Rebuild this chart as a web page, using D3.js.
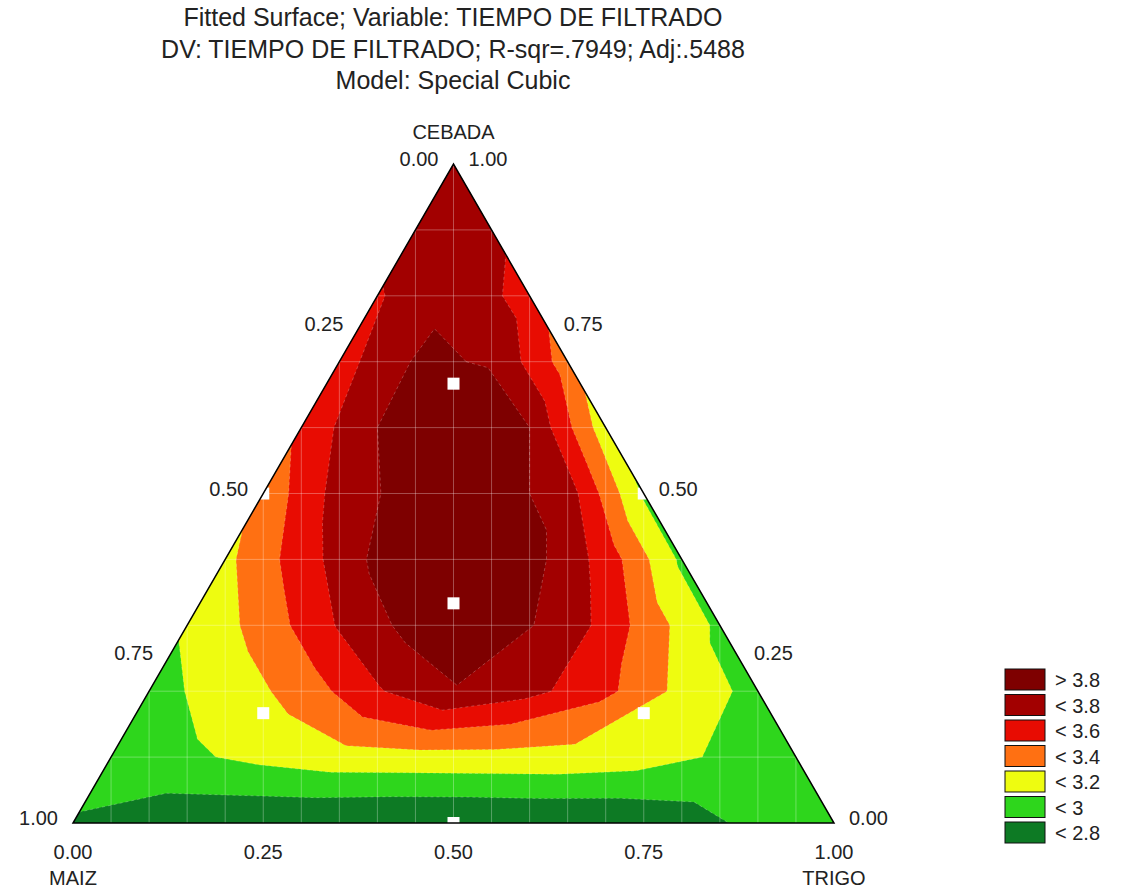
<!DOCTYPE html>
<html>
<head>
<meta charset="utf-8">
<script src="https://cdn.jsdelivr.net/npm/d3@7"></script>
<style>
  body { margin: 0; background: #fff; }
  svg text { font-family: "Liberation Sans", Arial, sans-serif; fill: #222; }
</style>
</head>
<body>
<div id="chart"></div>
<script>
// title
var titleLines = [
  "Fitted Surface; Variable: TIEMPO DE FILTRADO",
  "DV: TIEMPO DE FILTRADO; R-sqr=.7949; Adj:.5488",
  "Model: Special Cubic"
];

// fitted surface, one row per CEBADA step of 0.1 (bottom to top),
// each row goes TRIGO = 0, 0.1, ... up to the right edge
var row0  = [2.78, 2.66, 2.62, 2.60, 2.58, 2.58, 2.60, 2.62, 2.72, 2.85, 2.98];
var row1  = [2.90, 2.97, 3.05, 3.12, 3.13, 3.14, 3.14, 3.10, 2.97, 2.93];
var row2  = [2.93, 3.08, 3.28, 3.58, 3.79, 3.66, 3.45, 3.14, 2.93];
var row3  = [3.02, 3.28, 3.62, 3.88, 3.90, 3.72, 3.33, 2.95];
var row4  = [3.15, 3.50, 3.85, 3.93, 3.88, 3.52, 2.96];
var row5  = [3.26, 3.68, 3.90, 3.90, 3.70, 2.97];
var row6  = [3.45, 3.80, 3.90, 3.80, 3.08];
var row7  = [3.52, 3.82, 3.79, 3.30];
var row8  = [3.58, 3.78, 3.50];
var row9  = [3.72, 3.66];
var row10 = [3.74];
var surface = [row0, row1, row2, row3, row4, row5, row6, row7, row8, row9, row10];

// contour levels and legend
var levels = [2.8, 3.0, 3.2, 3.4, 3.6, 3.8];
var bandColors = ["#0d7a24", "#2ed61c", "#eefc10", "#ff7012", "#e80c02", "#a20000", "#7e0000"];
var legendLabels = ["> 3.8", "< 3.8", "< 3.6", "< 3.4", "< 3.2", "< 3", "< 2.8"];

// design points (CEBADA, TRIGO)
var ptCebada = [2/3, 1/3, 1/6, 1/6, 0,   1/2, 1/2];
var ptTrigo  = [1/6, 1/3, 1/6, 2/3, 1/2, 0,   1/2];

// axis ticks
var ticks = [0, 0.25, 0.5, 0.75, 1];

var svgWidth = 1121, svgHeight = 896;
var x0 = 73, x1 = 834, yBase = 823, yTop = 164;

var svg = d3.select("#chart").append("svg")
  .attr("width", svgWidth)
  .attr("height", svgHeight);

var x = d3.scaleLinear().domain([0, 1]).range([x0, x1]);
var y = d3.scaleLinear().domain([0, 1]).range([yBase, yTop]);

// ternary -> screen (trigo, cebada)
function px(t, c) { return x(t + c / 2); }
function py(t, c) { return y(c); }

var tri = [[px(0, 0), py(0, 0)], [px(1, 0), py(1, 0)], [px(0, 1), py(0, 1)]];

svg.append("clipPath").attr("id", "triClip")
  .append("path")
  .attr("d", "M" + tri.join("L") + "Z");

// rectangular grid for d3.contours, cells past the right edge are padded
var n = surface.length;
var grid = new Array(n * n);
for (var j = 0; j < n; j++) {
  for (var i = 0; i < n; i++) {
    if (i + j < n) grid[j * n + i] = surface[j][i];
    else grid[j * n + i] = grid[j * n + i - 1] + grid[(j - 1) * n + i] - grid[(j - 1) * n + i - 1];
  }
}

var contours = d3.contours().size([n, n]).thresholds(levels)(grid);

var proj = d3.geoTransform({
  point: function(gx, gy) {
    var t = (gx - 0.5) / (n - 1), c = (gy - 0.5) / (n - 1);
    this.stream.point(px(t, c), py(t, c));
  }
});
var path = d3.geoPath(proj);

var plot = svg.append("g").attr("clip-path", "url(#triClip)");

plot.append("path")
  .attr("d", "M" + tri.join("L") + "Z")
  .attr("fill", bandColors[0]);

plot.selectAll("path.band")
  .data(contours)
  .enter().append("path")
  .attr("class", "band")
  .attr("d", path)
  .attr("fill", function(d, k) { return bandColors[k + 1]; });

plot.selectAll("path.outline")
  .data(contours)
  .enter().append("path")
  .attr("class", "outline")
  .attr("d", path)
  .attr("fill", "none")
  .attr("stroke", "rgba(255,255,255,0.3)")
  .attr("stroke-width", 0.8)
  .attr("stroke-dasharray", "3,3");

// faint grid
d3.range(1, 20).forEach(function(k) {
  plot.append("line")
    .attr("x1", x(k / 20)).attr("x2", x(k / 20))
    .attr("y1", yTop).attr("y2", yBase)
    .attr("stroke", "rgba(255,255,255,0.3)").attr("stroke-width", 1);
});
d3.range(1, 10).forEach(function(k) {
  plot.append("line")
    .attr("x1", x0).attr("x2", x1)
    .attr("y1", y(k / 10)).attr("y2", y(k / 10))
    .attr("stroke", "rgba(255,255,255,0.3)").attr("stroke-width", 1);
});

// design points
plot.selectAll("rect.pt")
  .data(ptCebada)
  .enter().append("rect")
  .attr("class", "pt")
  .attr("x", function(c, k) { return px(ptTrigo[k], c) - 6; })
  .attr("y", function(c, k) { return py(ptTrigo[k], c) - 6; })
  .attr("width", 12).attr("height", 12)
  .attr("fill", "#fff");

// triangle border
svg.append("path")
  .attr("d", "M" + tri.join("L") + "Z")
  .attr("fill", "none")
  .attr("stroke", "#000")
  .attr("stroke-width", 1.5);

// titles
svg.selectAll("text.title")
  .data(titleLines)
  .enter().append("text")
  .attr("class", "title")
  .attr("x", 453)
  .attr("y", function(d, k) { return 26 + k * 31.5; })
  .attr("text-anchor", "middle")
  .style("font-size", "25px")
  .text(function(d) { return d; });

var fs = "20px";

// left axis: MAIZ (1 at bottom-left)
ticks.forEach(function(v) {
  var t = 0, c = 1 - v;
  svg.append("text")
    .attr("x", px(t, c) - 15).attr("y", py(t, c) - 5)
    .attr("dy", "0.35em")
    .attr("text-anchor", "end")
    .style("font-size", fs)
    .text(v.toFixed(2));
});
// right axis: CEBADA (1 at apex)
ticks.forEach(function(v) {
  var c = v, t = 1 - v;
  svg.append("text")
    .attr("x", px(t, c) + 15).attr("y", py(t, c) - 5)
    .attr("dy", "0.35em")
    .attr("text-anchor", "start")
    .style("font-size", fs)
    .text(v.toFixed(2));
});
// bottom axis: TRIGO
ticks.forEach(function(v) {
  svg.append("text")
    .attr("x", px(v, 0)).attr("y", 859)
    .attr("text-anchor", "middle")
    .style("font-size", fs)
    .text(v.toFixed(2));
});

svg.append("text").attr("x", px(0, 1)).attr("y", 139)
  .attr("text-anchor", "middle").style("font-size", fs).text("CEBADA");
svg.append("text").attr("x", px(0, 0)).attr("y", 885)
  .attr("text-anchor", "middle").style("font-size", fs).text("MAIZ");
svg.append("text").attr("x", px(1, 0)).attr("y", 885)
  .attr("text-anchor", "middle").style("font-size", fs).text("TRIGO");

// legend
var legend = svg.append("g").attr("transform", "translate(1005,669)");
legendLabels.forEach(function(lab, k) {
  var g = legend.append("g").attr("transform", "translate(0," + (k * 25.5) + ")");
  g.append("rect")
    .attr("width", 40).attr("height", 21)
    .attr("fill", bandColors[bandColors.length - 1 - k])
    .attr("stroke", "#111").attr("stroke-width", 1);
  g.append("text")
    .attr("x", 50).attr("y", 11)
    .attr("dy", "0.35em")
    .style("font-size", fs)
    .text(lab);
});
</script>
</body>
</html>
